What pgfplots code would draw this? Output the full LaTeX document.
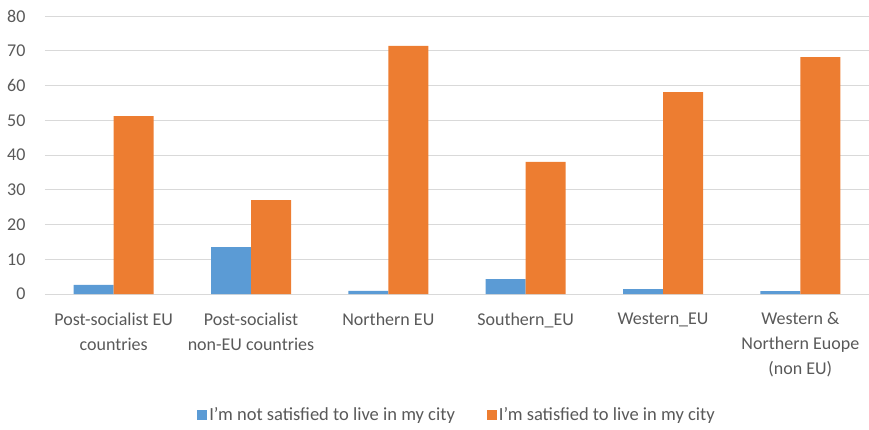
\documentclass[border=0pt]{standalone}
\usepackage{pgfplots}
\pgfplotsset{compat=1.18}
\usepackage{fontspec}
\setmainfont{Carlito}
\definecolor{cblue}{HTML}{5B9BD5}
\definecolor{corange}{HTML}{ED7D31}
\definecolor{cgrid}{HTML}{D9D9D9}
\definecolor{ctext}{HTML}{595959}
\begin{document}
\begin{tikzpicture}
\begin{axis}[
  scale only axis,
  width=824pt, height=278pt,
  ybar=0pt, bar width=40pt,
  xmin=-0.5, xmax=5.5, ymin=0, ymax=80,
  ytick={0,10,...,80},
  xtick={0,1,2,3,4,5},
  xticklabels={{Post-socialist EU\\countries},{Post-socialist\\non-EU countries},{Northern EU},{Southern\_EU},{Western\_EU},{Western \&\\Northern Euope\\(non EU)}},
  xticklabel style={align=center, font=\fontsize{18}{25}\selectfont, text=ctext, yshift=-15pt},
  yticklabel style={font=\fontsize{18}{20}\selectfont, text=ctext, xshift=-16pt},
  /pgf/number format/assume math mode=true,
  axis line style={draw=none},
  major tick length=0pt,
  ymajorgrids, grid style={cgrid, line width=1pt},
  legend style={at={(0.5,-0.435)}, anchor=center, draw=none, legend columns=2,
    font=\fontsize{18.5}{20}\selectfont, text=ctext,
    /tikz/every even column/.append style={column sep=30pt}},
  legend image code/.code={\fill[#1] (0pt,-5pt) rectangle (10pt,5pt);},
]
\addplot[fill=cblue, draw=none] coordinates {(0,2.6) (1,13.5) (2,0.9) (3,4.3) (4,1.4) (5,0.8)};
\addplot[fill=corange, draw=none] coordinates {(0,51.2) (1,27) (2,71.4) (3,38) (4,58.1) (5,68.2)};
\legend{I'm not satisfied to live in my city, I'm satisfied to live in my city}
\end{axis}
\pgfresetboundingbox
\path ([xshift=-45pt,yshift=294pt]current axis.south west) rectangle ([xshift=824pt,yshift=-135pt]current axis.south west);
\end{tikzpicture}
\end{document}
